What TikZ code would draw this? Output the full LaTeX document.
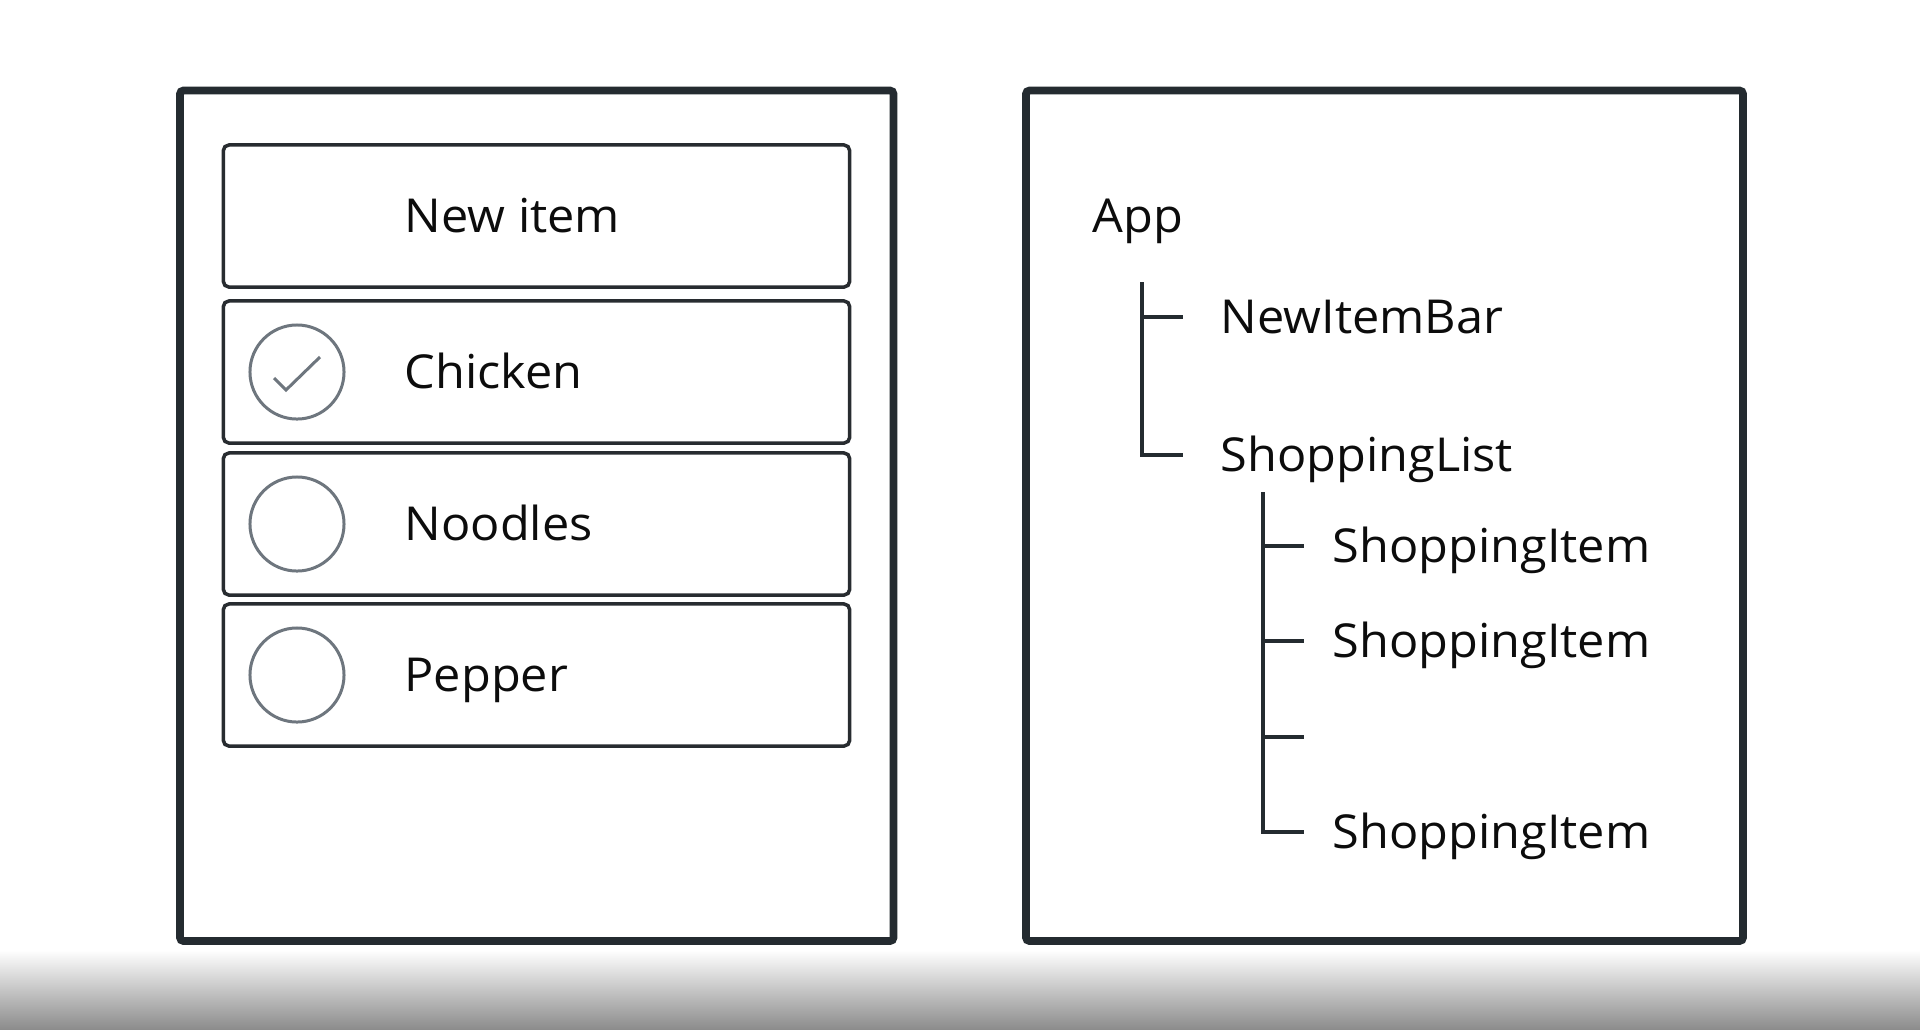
\documentclass[tikz,border=0pt]{standalone}
\usepackage{fontspec}
\setmainfont{Open Sans}[FakeStretch=1.04]
\usepackage{tikz}
\usetikzlibrary{positioning}
\definecolor{frameink}{RGB}{36,43,48}
\definecolor{boxink}{RGB}{40,44,48}
\definecolor{ringgray}{RGB}{110,118,126}
\definecolor{labelink}{RGB}{12,12,12}

\begin{document}
\begin{tikzpicture}[x=0.01cm, y=-0.01cm,
    frame/.style={draw=frameink, line width=2.2pt, rounded corners=1pt},
    itembox/.style={draw=boxink, line width=1pt, rounded corners=1.6pt, minimum width=6.26cm, minimum height=1.42cm, inner sep=0pt},
    ring/.style={draw=ringgray, line width=0.85pt, circle, minimum size=0.94cm, inner sep=0pt},
    lbl/.style={anchor=west, inner sep=0pt, text height=0.33cm, text depth=0pt, text=labelink, font=\fontsize{13.3}{16}\selectfont},
    branch/.style={draw=frameink, line width=1pt}]
    \useasboundingbox (0,0) rectangle (1920,1029);
    \fill[white] (0,0) rectangle (1920,1029);
    \shade[top color=white, bottom color=black!45] (0,950) rectangle (1920,1029);
    \draw[frame] (180,90.5) rectangle (893.5,941);
    \draw[frame] (1026,90.5) rectangle (1743,941);

    \node[itembox] (newbar) at (536.5,216) {};
    \node[lbl] (newbar-txt) at (404,216) {New item};
    \foreach \y/\name/\txt in {372/chicken/Chicken, 524/noodles/Noodles, 675/pepper/Pepper} {
        \node[itembox] (\name) at (536.5,\y) {};
        \node[ring] (\name-ring) at (297,\y) {};
        \node[lbl] (\name-txt) at (404,\y) {\txt};
    }
    \draw[draw=ringgray, line width=0.85pt] ([shift={(-23,6)}]chicken-ring.center) -- ([shift={(-11,18)}]chicken-ring.center) -- ([shift={(23,-15)}]chicken-ring.center);

    \node[lbl] (app) at (1092,216) {App};
    \node[lbl] (newitembar) at (1220,317) {NewItemBar};
    \node[lbl] (shoppinglist) at (1220,455) {ShoppingList};
    \node[lbl] (item1) at (1332,546) {ShoppingItem};
    \node[lbl] (item2) at (1332,641) {ShoppingItem};
    \coordinate (gap) at (1304,737);
    \node[lbl] (item3) at (1332,832) {ShoppingItem};
    \coordinate (spineA) at (1142,282);
    \coordinate (spineB) at (1263,492);
    \draw[branch, shorten >=0.37cm] (spineA) |- (newitembar.west);
    \draw[branch, shorten >=0.37cm] (spineA) |- (shoppinglist.west);
    \foreach \kid in {item1, item2, item3}
        \draw[branch, shorten >=0.28cm] (spineB) |- (\kid.west);
    \draw[branch] (spineB) |- (gap);
\end{tikzpicture}
\end{document}
